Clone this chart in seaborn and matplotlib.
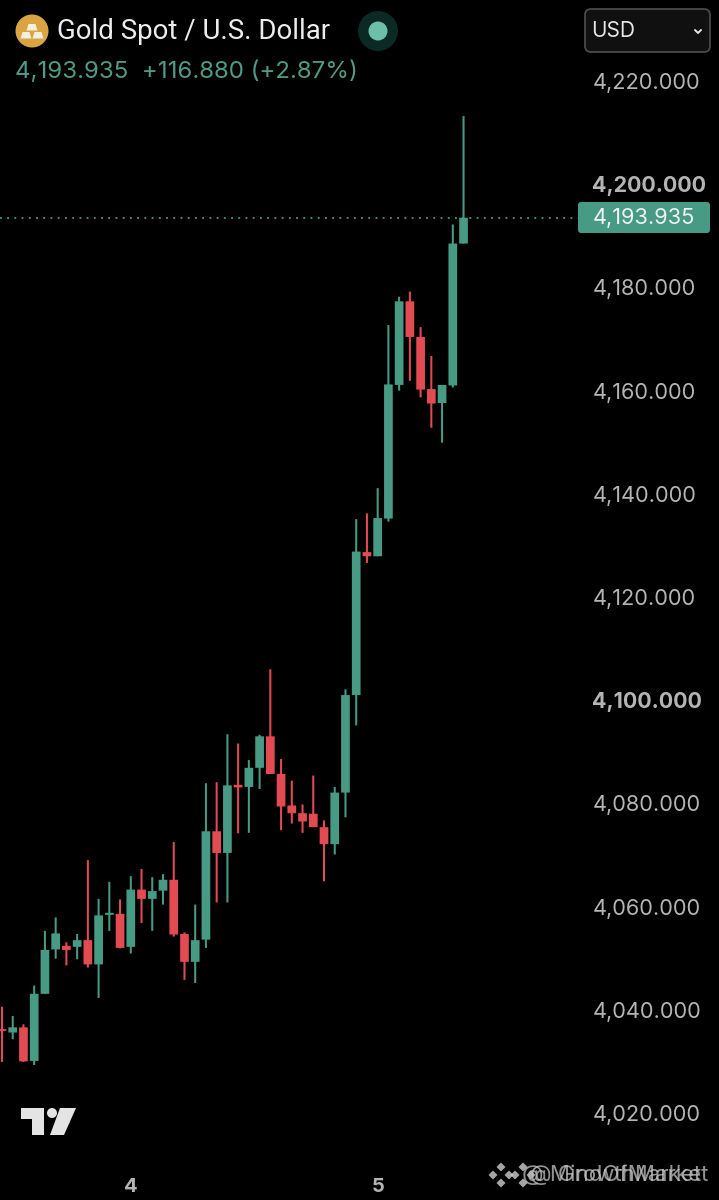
# gold spot candles, tradingview mobile look
import numpy as np
import pandas as pd
import seaborn as sns
import matplotlib
matplotlib.use("Agg")
import matplotlib.pyplot as plt
from matplotlib.patches import Circle, FancyBboxPatch, Polygon

opens = [4036.1, 4035.6, 4036.6, 4030.1, 4043.1, 4051.7, 4052.4, 4052.2, 4053.5, 4048.8, 4058.4,
         4058.6, 4052.2, 4063.3, 4061.5, 4063.1, 4065.2, 4054.7, 4049.3, 4053.6, 4074.6, 4070.4,
         4083.6, 4083.2, 4086.9, 4093.0, 4085.7, 4079.6, 4078.1, 4078.0, 4075.4, 4072.1, 4082.1,
         4101.0, 4128.7, 4127.9, 4135.2, 4161.1, 4177.3, 4170.4, 4160.3, 4157.6, 4161.0, 4188.5]
highs = [4040.6, 4038.8, 4037.2, 4044.7, 4055.3, 4057.9, 4053.1, 4054.7, 4069.0, 4061.5, 4064.8,
         4061.4, 4065.9, 4067.3, 4065.7, 4066.3, 4072.5, 4055.0, 4060.4, 4083.9, 4084.1, 4093.4,
         4091.6, 4088.4, 4093.3, 4106.0, 4088.6, 4084.4, 4079.8, 4085.4, 4076.7, 4083.2, 4102.1,
         4135.1, 4136.2, 4141.1, 4172.7, 4178.2, 4179.2, 4172.3, 4166.7, 4161.1, 4192.2, 4213.2]
lows = [4029.9, 4034.3, 4029.9, 4029.3, 4043.1, 4049.9, 4048.6, 4049.8, 4048.2, 4042.3, 4055.3,
        4051.9, 4050.9, 4056.8, 4055.3, 4060.4, 4054.2, 4045.8, 4045.2, 4052.0, 4060.8, 4060.8,
        4074.2, 4074.3, 4082.8, 4085.7, 4074.8, 4076.1, 4074.3, 4075.4, 4064.9, 4070.1, 4077.3,
        4095.1, 4126.6, 4127.9, 4134.6, 4160.0, 4161.9, 4158.7, 4152.8, 4149.9, 4160.6, 4188.5]
closes = [4035.9, 4036.6, 4030.0, 4043.1, 4051.6, 4054.8, 4051.6, 4053.5, 4048.8, 4058.3, 4058.8,
          4052.0, 4063.3, 4061.5, 4063.0, 4065.2, 4054.6, 4049.3, 4053.5, 4074.6, 4070.4, 4083.5,
          4083.1, 4086.9, 4093.0, 4085.7, 4079.4, 4078.1, 4076.5, 4075.4, 4072.1, 4082.1, 4101.0,
          4128.8, 4127.9, 4135.3, 4161.2, 4177.3, 4170.4, 4160.2, 4157.5, 4161.1, 4188.5, 4193.5]

price_ticks = [4220, 4200, 4180, 4160, 4140, 4120, 4100, 4080, 4060, 4040, 4020]
bold_ticks = [4200, 4100]
day_positions = [12, 35]
day_labels = ["4", "5"]
last_price = 4193.5
last_label = "4,193.935"
title = "Gold Spot / U.S. Dollar"
quote = "4,193.935  +116.880 (+2.87%)"

GREEN = "#479b85"
RED = "#e34b53"
GREY = "#b4b4b4"
FONT = "Inter"

sns.set_theme(style="dark", rc={"axes.facecolor": "black", "figure.facecolor": "black"})
plt.rcParams["font.family"] = [FONT, "DejaVu Sans"]

df = pd.DataFrame({"open": opens, "high": highs, "low": lows, "close": closes})
df["i"] = np.arange(len(df))
df["up"] = df["close"] >= df["open"]
df["top"] = df[["open", "close"]].max(axis=1)
df["bot"] = df[["open", "close"]].min(axis=1)

fig = plt.figure(figsize=(7.19, 12), dpi=100)
ax = fig.add_axes([0, 0, 1, 1])

for is_up, color in [(True, GREEN), (False, RED)]:
    part = df[df["up"] == is_up]
    # wicks first, then the bodies over them
    sns.barplot(x=part["i"].values, y=(part["high"] - part["low"]).values, bottom=part["low"].values,
                color=color, saturation=1, width=0.19, native_scale=True, errorbar=None,
                linewidth=0, ax=ax)
    sns.barplot(x=part["i"].values, y=(part["top"] - part["bot"]).clip(lower=0.35).values,
                bottom=part["bot"].values, color=color, saturation=1, width=0.81, native_scale=True,
                errorbar=None, linewidth=0, ax=ax)

# no pixel snapping, otherwise the wicks come out 1 or 2 px at random
for p in ax.patches:
    p.set_snap(False)

ax.axhline(last_price, xmin=0, xmax=578 / 719, color=GREEN, lw=1.3, ls=(0, (1, 3)))

ax.set_xlim(-0.186, 66.8)
ax.set_ylim(4003.14, 4235.7)
ax.grid(False)
for s in ax.spines.values():
    s.set_visible(False)

ax.yaxis.tick_right()
ax.set_yticks(price_ticks)
ax.set_yticklabels([f"{p:,.3f}" for p in price_ticks], fontsize=15.7, color=GREY)
ax.tick_params(axis="y", length=0, pad=-91.2)
for lab, p in zip(ax.get_yticklabels(), price_ticks):
    lab.set_ha("left")
    if p in bold_ticks:
        lab.set_fontweight("bold")
        lab.set_fontsize(15.4)
ax.set_xticks(day_positions)
ax.set_xticklabels(day_labels, fontsize=14.5, color=GREY, fontweight="bold")
ax.tick_params(axis="x", length=0, pad=-15.5)
ax.set_xlabel("")
ax.set_ylabel("")

# header and other screen furniture, drawn in pixel coordinates
ui = fig.add_axes([0, 0, 1, 1])
ui.set_xlim(0, 719)
ui.set_ylim(1200, 0)
ui.axis("off")
ui.patch.set_alpha(0)

ui.add_patch(Circle((32, 31), 16.5, color="#d9a441", lw=0))
for bx, by in [(26.5, 24), (20.5, 32), (32.5, 32)]:
    ui.add_patch(Polygon([(bx + 2, by), (bx + 9, by), (bx + 11, by + 6.5), (bx, by + 6.5)], color="#f6efe0", lw=0))

ui.text(57, 31.5, title, color="#ececec", fontsize=19.9, family=["Roboto", "DejaVu Sans"], va="center", ha="left")
ui.add_patch(Circle((378, 31), 20, color="#0c2a25", lw=0))
ui.add_patch(Circle((378, 31), 9.5, color="#6dbfa8", lw=0))
ui.text(15, 72, quote, color="#4f9b86", fontsize=17.35, va="center", ha="left")

ui.add_patch(FancyBboxPatch((585, 9), 125, 43, boxstyle="round,pad=0,rounding_size=6",
                            fc="#101010", ec="#4a4a4a", lw=1.3))
ui.text(591, 31, "USD", color="#e6e6e6", fontsize=15, va="center", ha="left")
ui.plot([695, 698, 701], [30, 33, 30], color="#e6e6e6", lw=1.4)

ui.add_patch(FancyBboxPatch((578, 202), 132, 31, boxstyle="round,pad=0,rounding_size=3", fc=GREEN, ec="none"))
ui.text(592.5, 217.5, last_label, color="#f2f2f2", fontsize=15.7, va="center", ha="left")

# tradingview mark
ui.add_patch(Polygon([(21, 1108), (44, 1108), (44, 1135), (32, 1135), (32, 1119), (21, 1119)], color="#e4e4e4", lw=0))
ui.add_patch(Circle((52, 1113), 5, color="#e4e4e4", lw=0))
ui.add_patch(Polygon([(60, 1108), (76, 1108), (64, 1135), (50, 1135)], color="#e4e4e4", lw=0))

# two watermarks stacked over each other
for off, handle in [(0, "@ MindOfMarket"), (8, "@ GrowthMarket")]:
    ui.text(522 + off, 1175, handle, color="#c4c4c4", alpha=0.75, fontsize=16, va="center", ha="left")
for cx in (501, 523):
    for dx, dy in [(0, -8), (-8, 0), (8, 0), (0, 8)]:
        ui.add_patch(Polygon([(cx + dx, 1175 + dy - 4.5), (cx + dx + 4.5, 1175 + dy), (cx + dx, 1175 + dy + 4.5),
                              (cx + dx - 4.5, 1175 + dy)], color="#d0d0d0", alpha=0.8, lw=0))

fig.savefig("out.png", dpi=100, facecolor="black")
